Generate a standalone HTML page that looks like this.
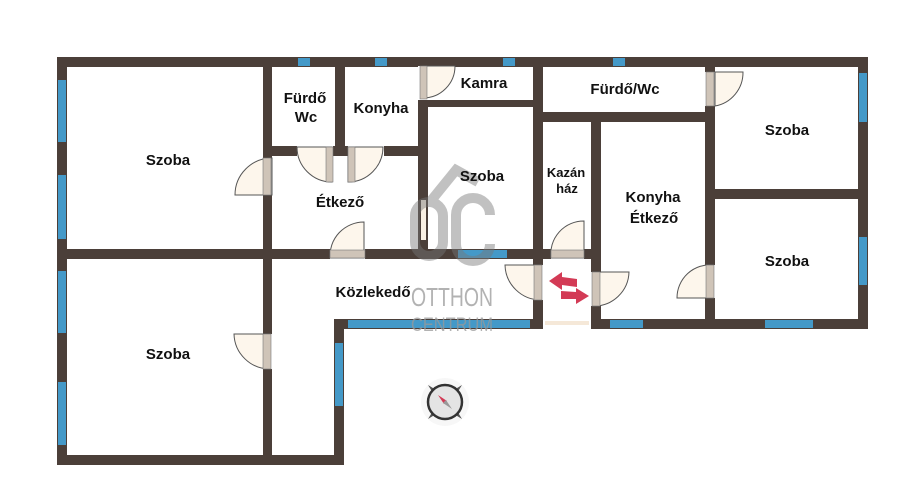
<!DOCTYPE html>
<html><head><meta charset="utf-8"><style>
html,body{margin:0;padding:0;background:#fff;}
svg{display:block;}
text{font-family:"Liberation Sans",sans-serif;font-weight:bold;font-size:15px;fill:#111;text-anchor:middle;}
</style></head><body>
<svg width="903" height="500" viewBox="0 0 903 500" xmlns="http://www.w3.org/2000/svg">
<g fill="#4b3f39">
<rect x="57" y="57" width="811" height="10"/>
<rect x="57" y="57" width="10" height="408"/>
<rect x="57" y="455" width="287" height="10"/>
<rect x="334" y="319" width="10" height="146"/>
<rect x="334" y="319" width="534" height="10"/>
<rect x="858" y="57" width="10" height="272"/>
<rect x="57" y="249" width="544" height="10"/>
<rect x="263" y="57" width="9" height="408"/>
<rect x="263" y="146" width="165" height="10"/>
<rect x="335" y="57" width="10" height="99"/>
<rect x="418" y="57" width="10" height="202"/>
<rect x="418" y="100" width="125" height="7"/>
<rect x="533" y="57" width="10" height="272"/>
<rect x="533" y="112" width="182" height="10"/>
<rect x="591" y="112" width="10" height="217"/>
<rect x="705" y="57" width="10" height="272"/>
<rect x="705" y="189" width="163" height="10"/>
</g>
<rect x="421" y="200" width="5" height="40" fill="#f8efe2"/>
<!-- gaps -->
<g fill="#fff">
<rect x="263" y="158" width="9" height="37"/>
<rect x="263" y="334" width="9" height="35"/>
<rect x="297" y="146" width="36" height="10"/>
<rect x="348" y="146" width="36" height="10"/>
<rect x="330" y="249" width="35" height="10"/>
<rect x="418" y="66" width="10" height="34"/>
<rect x="705" y="72" width="10" height="34"/>
<rect x="551" y="249" width="33" height="10"/>
<rect x="533" y="265" width="10" height="35"/>
<rect x="591" y="272" width="10" height="34"/>
<rect x="705" y="265" width="10" height="33"/>
<rect x="543" y="319" width="48" height="10"/>
</g>
<rect x="545" y="321" width="44" height="4" fill="#f5e8d8"/>
<!-- windows -->
<g fill="#4499c8">
<rect x="58" y="80" width="8" height="62"/>
<rect x="58" y="175" width="8" height="64"/>
<rect x="58" y="271" width="8" height="62"/>
<rect x="58" y="382" width="8" height="63"/>
<rect x="298" y="58" width="12" height="8"/>
<rect x="375" y="58" width="12" height="8"/>
<rect x="503" y="58" width="12" height="8"/>
<rect x="613" y="58" width="12" height="8"/>
<rect x="859" y="73" width="8" height="49"/>
<rect x="859" y="237" width="8" height="48"/>
<rect x="335" y="343" width="8" height="63"/>
<rect x="348" y="320" width="182" height="8"/>
<rect x="610" y="320" width="33" height="8"/>
<rect x="765" y="320" width="48" height="8"/>
<rect x="458" y="250" width="49" height="8"/>
</g>
<!-- doors -->
<g fill="#fdf6ec" stroke="#555" stroke-width="1">
<path d="M272 195 L235 195 A37 37 0 0 1 272 158 Z"/>
<path d="M270 334 L270 369 A36 36 0 0 1 234 334 Z"/>
<path d="M332 147 L297 147 A35 35 0 0 0 332 182 Z"/>
<path d="M348 147 L383 147 A35 35 0 0 1 348 182 Z"/>
<path d="M364 258 L330 258 A34 34 0 0 1 364 222 Z"/>
<path d="M423 66 L455 66 A32 32 0 0 1 423 98 Z"/>
<path d="M715 72 L743 72 A34 34 0 0 1 715 106 Z"/>
<path d="M584 258 L551 258 A33 33 0 0 1 584 221 Z"/>
<path d="M541 265 L505 265 A36 36 0 0 0 541 300 Z"/>
<path d="M593 272 L629 272 A35 35 0 0 1 593 306 Z"/>
<path d="M713 298 L677 298 A33 33 0 0 1 713 265 Z"/>
</g>
<g fill="#cfc4b8" stroke="#777" stroke-width="0.6">
<rect x="263" y="158" width="8" height="37"/>
<rect x="263" y="334" width="8" height="35"/>
<rect x="326" y="147" width="7" height="35"/>
<rect x="348" y="147" width="7" height="35"/>
<rect x="330" y="250" width="35" height="8"/>
<rect x="420" y="66" width="7" height="33"/>
<rect x="706" y="72" width="8" height="34"/>
<rect x="551" y="250" width="33" height="8"/>
<rect x="534" y="265" width="8" height="35"/>
<rect x="592" y="272" width="8" height="34"/>
<rect x="706" y="265" width="8" height="33"/>
</g>
<!-- watermark -->
<g opacity="0.45" fill="none" stroke="#777" stroke-width="10">
<path d="M430 202 L456 170 L478 182"/>
<rect x="415" y="202" width="28" height="54" rx="14"/>
<path d="M490 215 A17 17 0 0 0 456 215 L456 244 A17 17 0 0 0 490 244"/>
</g>
<text x="452" y="306" style="font-size:26px;font-weight:normal;fill:#999;opacity:0.75;" textLength="82" lengthAdjust="spacingAndGlyphs">OTTHON</text>
<text x="452" y="331" style="font-size:19px;font-weight:normal;fill:#999;opacity:0.75;" textLength="82" lengthAdjust="spacingAndGlyphs">CENTRUM</text>
<!-- arrows -->
<g fill="#d33a55">
<path d="M549 281 L562 272 L562 277 L577 279 L577 287 L562 285 L562 290 Z"/>
<path d="M589 296 L576 288 L576 292 L561 291 L561 299 L576 299 L576 304 Z"/>
</g>
<!-- compass -->
<g transform="translate(445,402)">
<circle r="24" fill="#f7f7f7"/>
<path d="M-17 -17 L-9 -4 L-4 -9 Z M17 -17 L9 -4 L4 -9 Z M-17 17 L-9 4 L-4 9 Z M17 17 L9 4 L4 9 Z" fill="#555"/>
<circle r="17" fill="#e4e4e4" stroke="#333" stroke-width="2.5"/>
<path d="M-7 -7 L-1 2 L2 -1 Z" fill="#d33a55"/>
<path d="M7 7 L1 -2 L-2 1 Z" fill="#999"/>
</g>
<!-- labels -->
<text x="168" y="165">Szoba</text>
<text x="305" y="103">Fürdő</text>
<text x="306" y="122">Wc</text>
<text x="381" y="113">Konyha</text>
<text x="484" y="88">Kamra</text>
<text x="625" y="94">Fürdő/Wc</text>
<text x="787" y="135">Szoba</text>
<text x="340" y="207">Étkező</text>
<text x="482" y="181">Szoba</text>
<text x="566" y="177" style="font-size:13px">Kazán</text>
<text x="567" y="193" style="font-size:13px">ház</text>
<text x="653" y="202">Konyha</text>
<text x="654" y="223">Étkező</text>
<text x="787" y="266">Szoba</text>
<text x="373" y="297">Közlekedő</text>
<text x="168" y="359">Szoba</text>
</svg>
</body></html>
